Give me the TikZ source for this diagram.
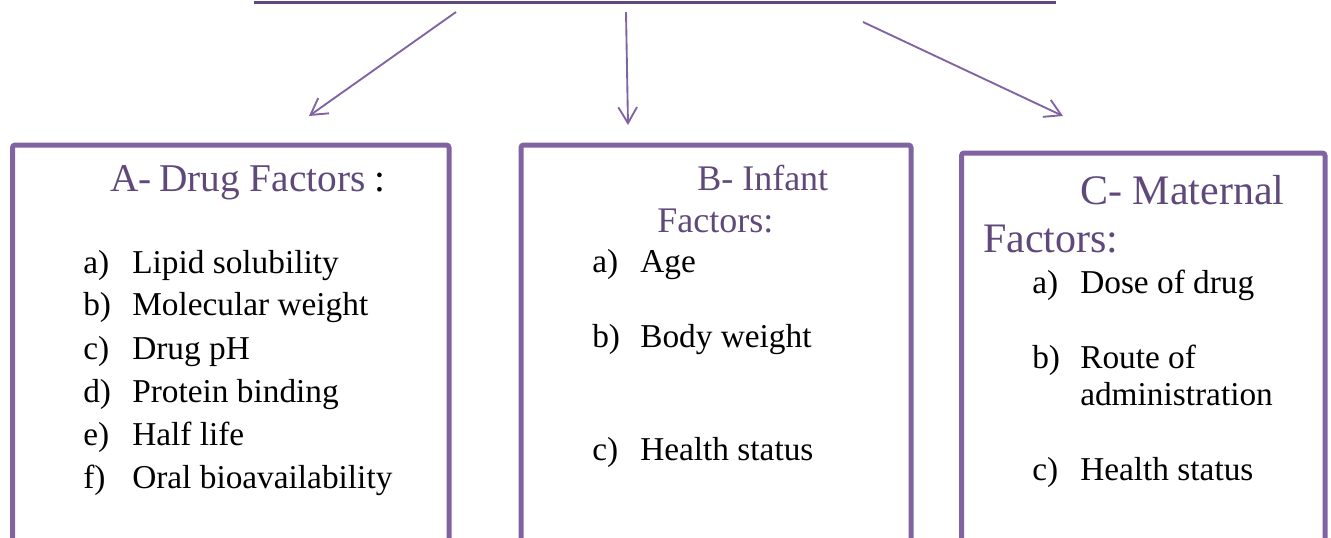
\documentclass[tikz,border=0pt]{standalone}
\usepackage{fontspec}
\setmainfont{Liberation Serif}
\usepackage{tikz}
\usetikzlibrary{arrows.meta,positioning,fit}
\usepackage{xcolor}
\definecolor{boxpurple}{HTML}{8064A2}
\definecolor{headpurple}{HTML}{5F497A}

\tikzset{
  factorbox/.style={draw=boxpurple, line width=3.75pt, rounded corners=2pt, inner sep=0pt},
  branch/.style={draw=boxpurple, line width=1.4pt, -{Straight Barb[length=12pt,width=14pt]}},
  headtext/.style={text=headpurple, anchor=base west, inner sep=0pt},
  itemtext/.style={anchor=base west, inner sep=0pt, font=\fontsize{25}{30}\selectfont},
}

\begin{document}
\begin{tikzpicture}[x=0.75pt, y=-0.75pt]
  \useasboundingbox (0,0) rectangle (1331,537);
  \clip (0,0) rectangle (1331,537);
  % title rule
  \coordinate (ruleL) at (254,2.5);
  \coordinate (ruleR) at (1056,2.5);
  \draw[headpurple, line width=2.4pt] (ruleL) -- (ruleR);
  % the three boxes
  \node[factorbox, fit={(12.5,145) (449,640)}] (boxA) {};
  \node[factorbox, fit={(521,145) (911,640)}] (boxB) {};
  \node[factorbox, fit={(961.5,153) (1325,640)}] (boxC) {};
  % branches
  \coordinate (tailA) at (456,12);
  \coordinate (tipA) at (309,116);
  \coordinate (tailB) at (626,12);
  \coordinate (tipB) at (628,125);
  \coordinate (tailC) at (863,22);
  \coordinate (tipC) at (1063,116);
  \draw[branch] (tailA) -- (tipA);
  \draw[branch] (tailB) -- (tipB);
  \draw[branch] (tailC) -- (tipC);
  % A- Drug Factors
  \node[headtext, font=\fontsize{29.5}{35}\selectfont] (headA1) at (110,191) {A-};
  \node[headtext, font=\fontsize{29.5}{35}\selectfont] (headA2) at (159,191) {Drug Factors};
  \node[itemtext, font=\fontsize{29.5}{35}\selectfont] (headA3) at (374,191) {:};
  \foreach \lbl/\txt/\yy in {a/Lipid solubility/273, b/Molecular weight/315,
      c/Drug pH/359, d/Protein binding/402, e/Half life/445, f/Oral bioavailability/488}{
    \node[itemtext] (labA-\lbl) at (83,\yy) {\lbl)};
    \node[itemtext] (itemA-\lbl) at (132,\yy) {\txt};
  }
  % B- Infant Factors
  \node[headtext, font=\fontsize{27}{32}\selectfont] (headB1) at (697,190) {B- Infant};
  \node[headtext, font=\fontsize{27}{32}\selectfont] (headB2) at (657,232) {Factors:};
  \foreach \lbl/\txt/\yy in {a/Age/272, b/Body weight/347, c/Health status/460}{
    \node[itemtext] (labB-\lbl) at (592,\yy) {\lbl)};
    \node[itemtext] (itemB-\lbl) at (640,\yy) {\txt};
  }
  % C- Maternal Factors
  \node[headtext, font=\fontsize{31.5}{38}\selectfont] (headC1) at (1080,204) {C- Maternal};
  \node[headtext, font=\fontsize{31.5}{38}\selectfont] (headC2) at (983,252) {Factors:};
  \foreach \lbl/\txt/\yy in {a/Dose of drug/293, b/Route of/368, c/Health status/480}{
    \node[itemtext] (labC-\lbl) at (1032,\yy) {\lbl)};
    \node[itemtext] (itemC-\lbl) at (1080,\yy) {\txt};
  }
  \node[itemtext] (itemC-b2) at (1080,405) {administration};
\end{tikzpicture}
\end{document}
